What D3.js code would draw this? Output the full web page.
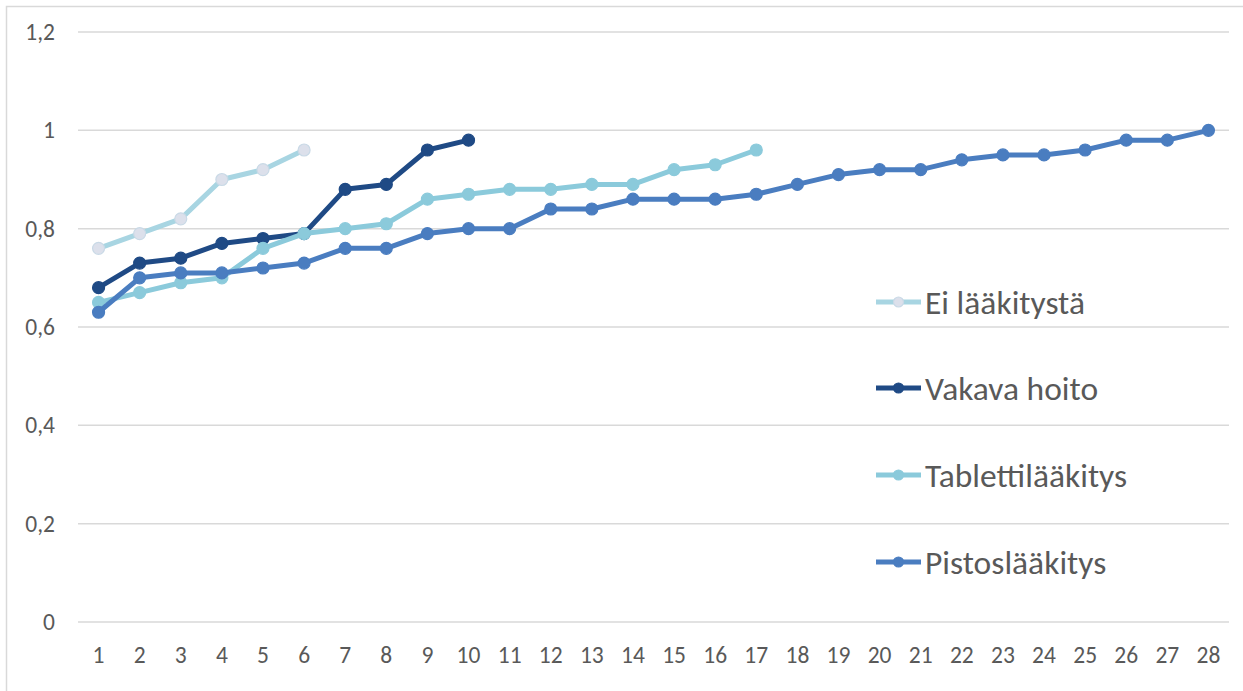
<!DOCTYPE html>
<html>
<head>
<meta charset="utf-8">
<script src="https://cdn.jsdelivr.net/npm/d3@7"></script>
<style>
  html, body { margin: 0; padding: 0; background: #fff; }
  svg { display: block; }
  text { font-family: Calibri, Carlito, Lato, "Open Sans", sans-serif; fill: #595959; }
</style>
</head>
<body>
<svg id="chart" width="1243" height="691"></svg>
<script>
// Categories along the x axis
const categories = d3.range(1, 29).map(String);

// Y axis ticks
const yTicks = [0, 0.2, 0.4, 0.6, 0.8, 1, 1.2];

// Series values (index 0 = category "1")
const seriesNames = ["Ei lääkitystä", "Vakava hoito", "Tablettilääkitys", "Pistoslääkitys"];
const eiLaakitysta = [0.76, 0.79, 0.82, 0.90, 0.92, 0.96];
const vakavaHoito = [0.68, 0.73, 0.74, 0.77, 0.78, 0.79, 0.88, 0.89, 0.96, 0.98];
const tablettilaakitys = [0.65, 0.67, 0.69, 0.70, 0.76, 0.79, 0.80, 0.81, 0.86, 0.87, 0.88, 0.88, 0.89, 0.89, 0.92, 0.93, 0.96];
const pistoslaakitys = [0.63, 0.70, 0.71, 0.71, 0.72, 0.73, 0.76, 0.76, 0.79, 0.80, 0.80, 0.84, 0.84, 0.86, 0.86, 0.86, 0.87, 0.89, 0.91, 0.92, 0.92, 0.94, 0.95, 0.95, 0.96, 0.98, 0.98, 1.00];

const series = [
  { name: seriesNames[0], values: eiLaakitysta, line: "#A8D5E2", fill: "#DCE0EB", stroke: "#C9D9E6" },
  { name: seriesNames[1], values: vakavaHoito, line: "#1F4A85", fill: "#1F4A85", stroke: "#1F4A85" },
  { name: seriesNames[2], values: tablettilaakitys, line: "#8BCADB", fill: "#8BCADB", stroke: "#8BCADB" },
  { name: seriesNames[3], values: pistoslaakitys, line: "#4A7DC0", fill: "#4A7DC0", stroke: "#4A7DC0" }
];

const fontFamily = "Calibri, Carlito, Lato, 'Open Sans', sans-serif";
const svg = d3.select("#chart");

// chart frame
svg.append("rect")
  .attr("x", 6.5).attr("y", 6.5)
  .attr("width", 1260).attr("height", 700)
  .attr("fill", "#fff").attr("stroke", "#D9D9D9").attr("stroke-width", 1.5);

const x = d3.scaleBand().domain(categories).range([78, 1229]);
const y = d3.scaleLinear().domain([0, 1.2]).range([622, 32]);

// gridlines
svg.append("g")
  .selectAll("line")
  .data(yTicks)
  .join("line")
  .attr("x1", 78).attr("x2", 1229)
  .attr("y1", d => y(d)).attr("y2", d => y(d))
  .attr("stroke", "#D9D9D9").attr("stroke-width", 1.5);

// y axis labels
const fmt = d => d3.format("")(d).replace(".", ",");
const yAxis = d3.axisLeft(y).tickValues(yTicks).tickFormat(fmt).tickSize(0).tickPadding(0);
svg.append("g")
  .attr("transform", "translate(55,0)")
  .call(yAxis)
  .call(g => g.select(".domain").remove())
  .call(g => g.selectAll("text")
    .attr("font-size", 23.5).attr("fill", "#595959")
    .attr("font-family", fontFamily));

// x axis labels
const xAxis = d3.axisBottom(x).tickSize(0).tickPadding(0);
svg.append("g")
  .attr("transform", "translate(0,646)")
  .call(xAxis)
  .call(g => g.select(".domain").remove())
  .call(g => g.selectAll("text")
    .attr("font-size", 23.5).attr("fill", "#595959")
    .attr("dy", "0.71em")
    .attr("font-family", fontFamily));

const cx = i => x(categories[i]) + x.bandwidth() / 2;

const line = d3.line()
  .x((d, i) => cx(i))
  .y(d => y(d));

// series lines and markers
series.forEach(s => {
  const g = svg.append("g");
  g.append("path")
    .datum(s.values)
    .attr("d", line)
    .attr("fill", "none")
    .attr("stroke", s.line)
    .attr("stroke-width", 5)
    .attr("stroke-linejoin", "round");
  g.selectAll("circle")
    .data(s.values)
    .join("circle")
    .attr("cx", (d, i) => cx(i))
    .attr("cy", d => y(d))
    .attr("r", 6)
    .attr("fill", s.fill)
    .attr("stroke", s.stroke)
    .attr("stroke-width", 1.2);
});

// legend
const legendY = [302, 388, 475, 562];
const legend = svg.append("g");
series.forEach((s, i) => {
  const g = legend.append("g").attr("transform", `translate(876,${legendY[i]})`);
  g.append("line")
    .attr("x1", 0).attr("x2", 45).attr("y1", 0).attr("y2", 0)
    .attr("stroke", s.line).attr("stroke-width", 5);
  g.append("circle")
    .attr("cx", 22.5).attr("cy", 0).attr("r", 5)
    .attr("fill", s.fill).attr("stroke", s.stroke).attr("stroke-width", 1.2);
  g.append("text")
    .attr("x", 49).attr("y", 0).attr("dy", "0.36em")
    .attr("font-size", 33.5).attr("fill", "#595959")
    .attr("font-family", fontFamily)
    .text(s.name);
});
</script>
</body>
</html>
